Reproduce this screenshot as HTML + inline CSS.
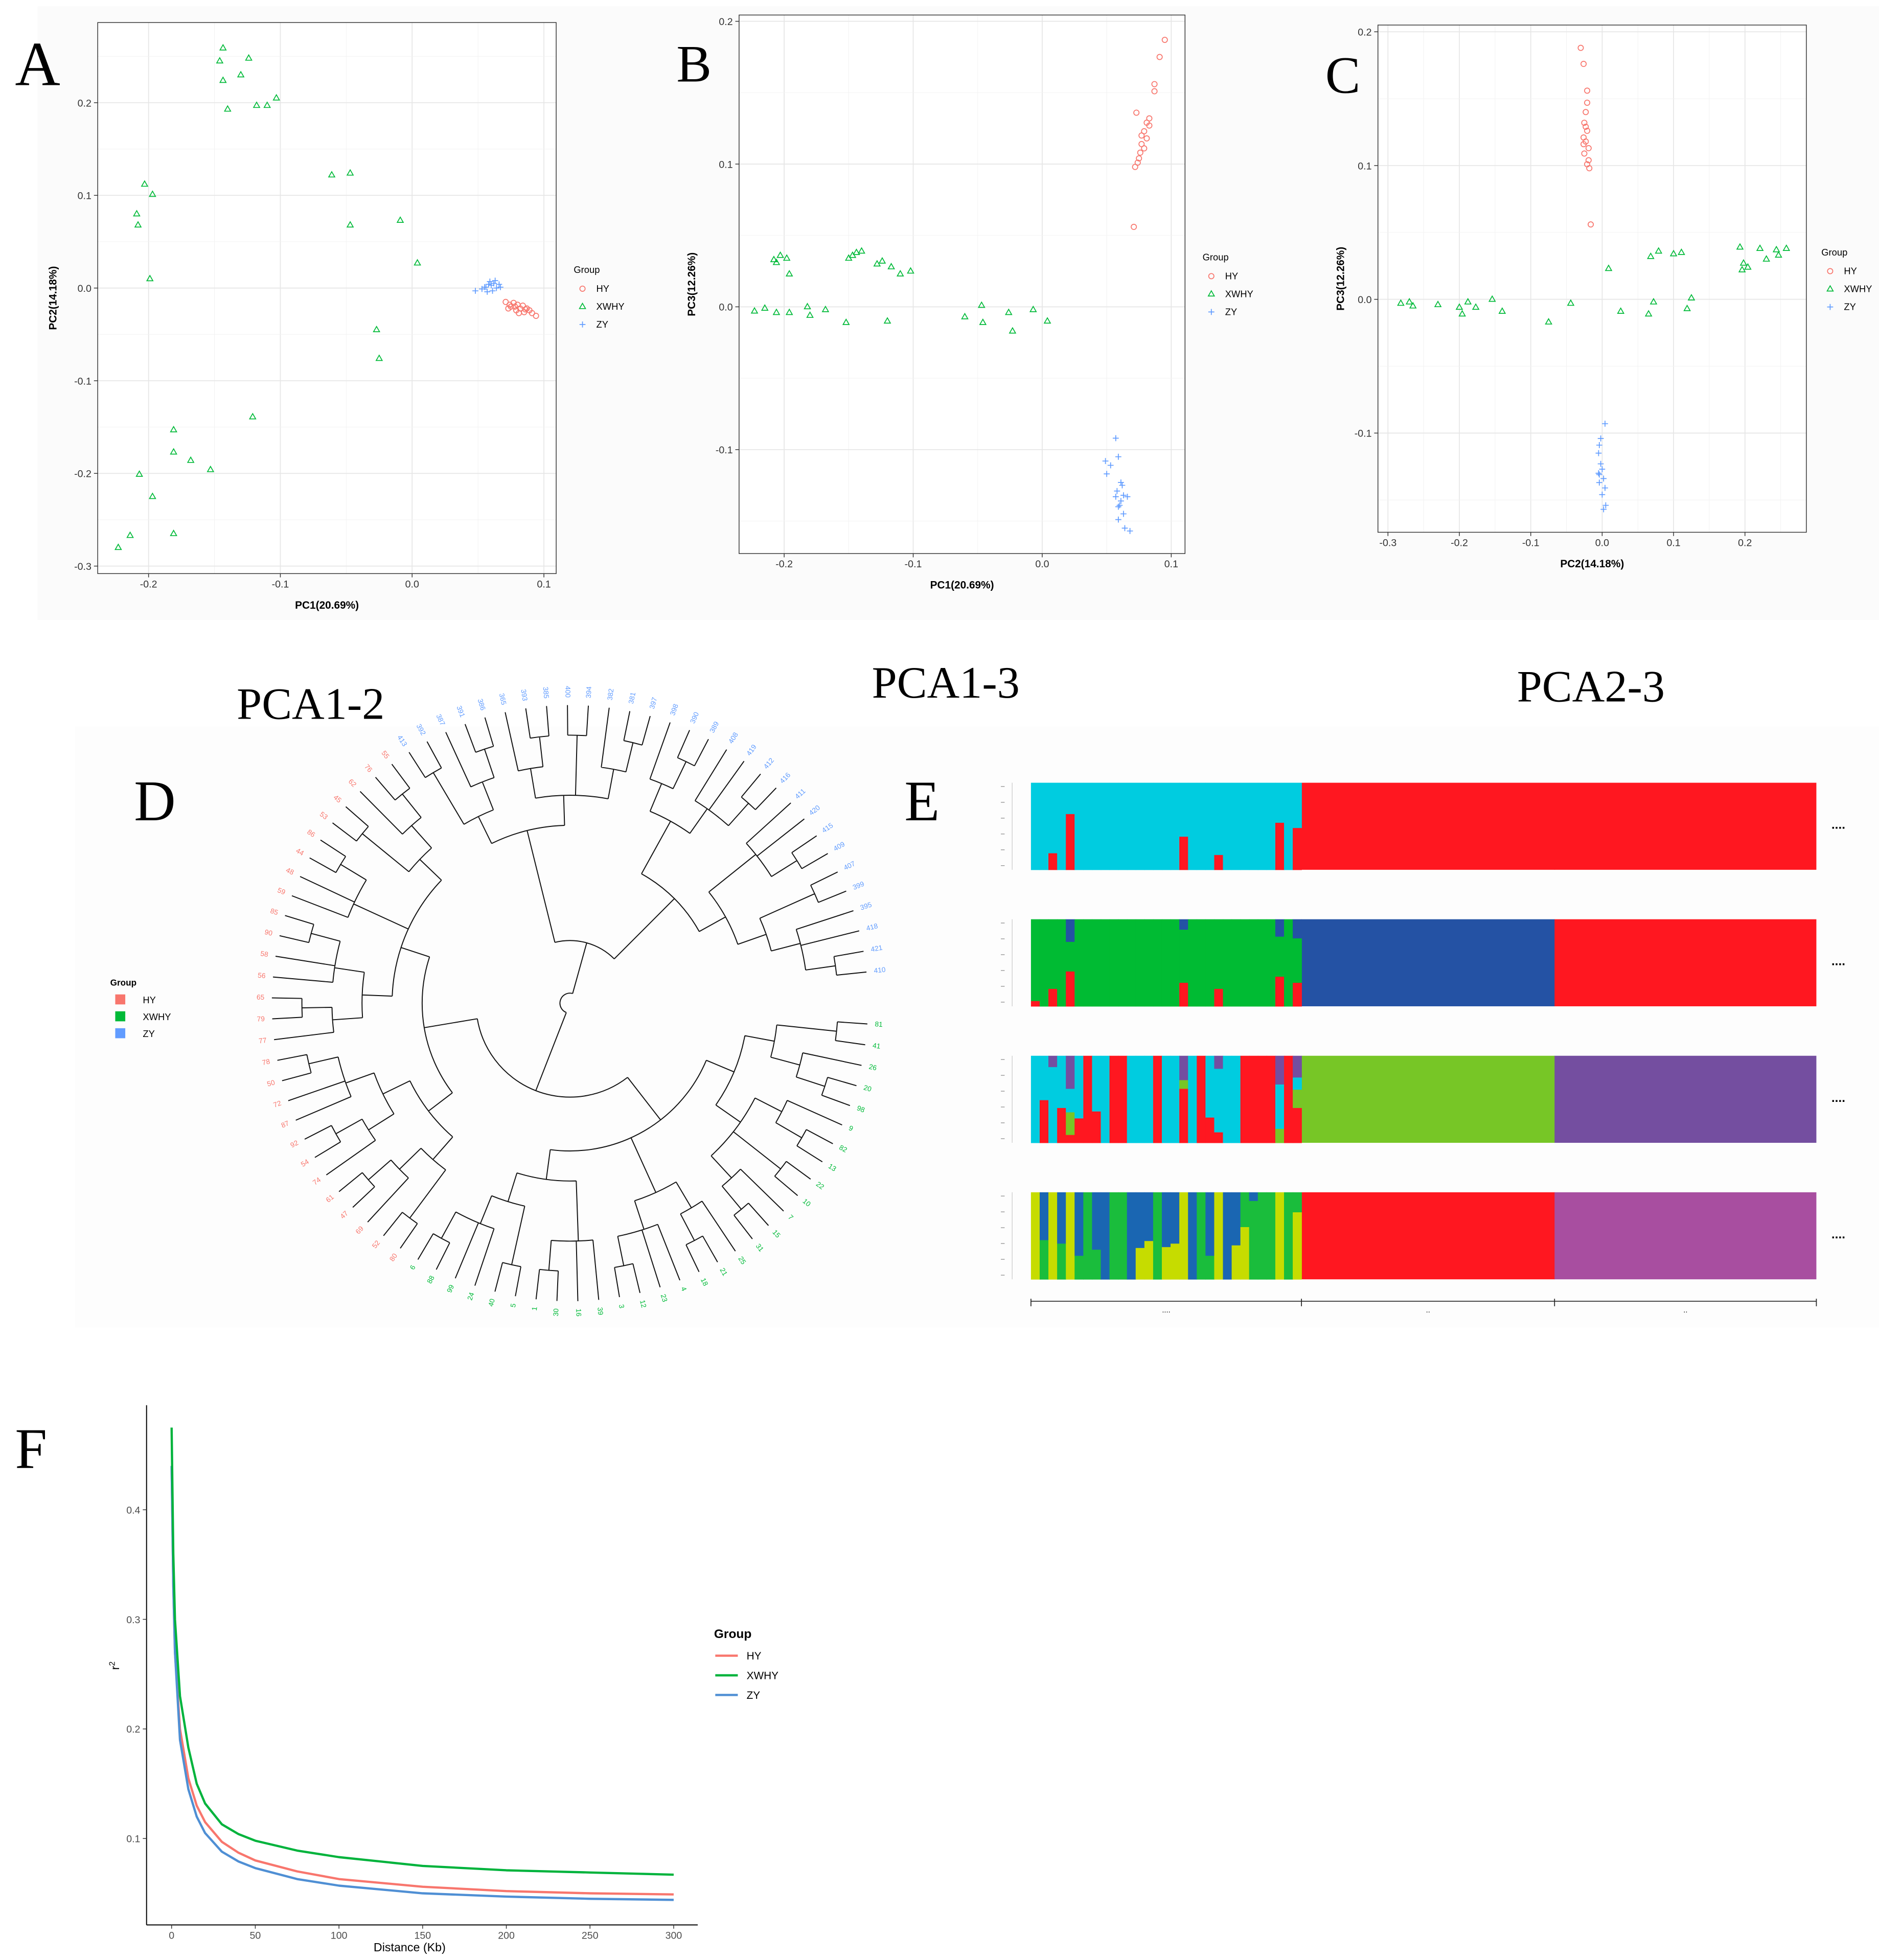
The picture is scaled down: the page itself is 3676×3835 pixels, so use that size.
<!DOCTYPE html>
<html><head><meta charset="utf-8"><title>Population structure figure</title>
<style>
html,body{margin:0;padding:0;background:#fff;}
svg{display:block;}
text{font-family:"Liberation Sans",sans-serif;}
.serif{font-family:"Liberation Serif",serif;}
</style></head>
<body>
<svg id="fig" xmlns="http://www.w3.org/2000/svg" width="3676" height="3835" viewBox="0 0 1500 1565" preserveAspectRatio="none">
<rect x="0" y="0" width="1500" height="1565" fill="#ffffff"/>
<rect x="30" y="5" width="1470" height="490" fill="#fbfbfb"/>
<rect x="60" y="580" width="1440" height="480" fill="#fdfdfd"/>
<text class="serif" x="12" y="68" font-size="50">A</text>
<text class="serif" x="540" y="65" font-size="42">B</text>
<text class="serif" x="1058" y="74" font-size="42">C</text>
<text class="serif" x="107" y="655" font-size="46">D</text>
<text class="serif" x="722" y="655" font-size="46">E</text>
<text class="serif" x="12" y="1172" font-size="46">F</text>
<text class="serif" x="248" y="574" font-size="36" text-anchor="middle">PCA1-2</text>
<text class="serif" x="755" y="557" font-size="36" text-anchor="middle">PCA1-3</text>
<text class="serif" x="1270" y="560" font-size="36" text-anchor="middle">PCA2-3</text>
</svg>
<script>
// ---------------- PCA data ----------------
const aHY_x=[0.071,0.074,0.077,0.078,0.080,0.082,0.075,0.084,0.086,0.087,0.089,0.091,0.094,0.079,0.073,0.081,0.085];
const aHY_y=[-0.015,-0.018,-0.016,-0.020,-0.018,-0.022,-0.020,-0.019,-0.023,-0.022,-0.024,-0.027,-0.030,-0.024,-0.022,-0.027,-0.026];
const aXW_x=[-0.1435,-0.146,-0.124,-0.1435,-0.130,-0.140,-0.118,-0.110,-0.103,-0.203,-0.197,-0.209,-0.208,-0.199,-0.061,-0.047,-0.047,-0.009,0.004,-0.027,-0.025,-0.121,-0.181,-0.181,-0.168,-0.153,-0.207,-0.197,-0.181,-0.214,-0.223];
const aXW_y=[0.259,0.245,0.248,0.224,0.230,0.193,0.197,0.197,0.205,0.112,0.101,0.080,0.068,0.010,0.122,0.124,0.068,0.073,0.027,-0.045,-0.076,-0.139,-0.153,-0.177,-0.186,-0.196,-0.201,-0.225,-0.265,-0.267,-0.280];
const aZY_x=[0.048,0.053,0.056,0.058,0.060,0.062,0.064,0.066,0.057,0.061,0.059,0.063,0.055,0.067];
const aZY_y=[-0.003,-0.001,0.001,0.004,0.003,0.005,0.0,0.004,-0.004,-0.003,0.007,0.008,0.001,0.001];

const bHY_x=[0.095,0.091,0.087,0.087,0.083,0.081,0.083,0.079,0.081,0.077,0.079,0.076,0.075,0.074,0.072,0.077,0.073,0.071];
const bHY_y=[0.187,0.175,0.156,0.151,0.132,0.129,0.127,0.123,0.118,0.114,0.111,0.108,0.104,0.101,0.098,0.120,0.136,0.056];
const bXW_x=[-0.208,-0.203,-0.198,-0.206,-0.196,-0.147,-0.144,-0.140,-0.150,-0.128,-0.124,-0.117,-0.110,-0.102,-0.223,-0.215,-0.206,-0.196,-0.182,-0.180,-0.168,-0.152,-0.120,-0.060,-0.047,-0.046,-0.026,-0.023,-0.007,0.004];
const bXW_y=[0.033,0.036,0.034,0.031,0.023,0.036,0.038,0.039,0.034,0.030,0.032,0.028,0.023,0.025,-0.003,-0.001,-0.004,-0.004,0.000,-0.006,-0.002,-0.011,-0.010,-0.007,0.001,-0.011,-0.004,-0.017,-0.002,-0.010];
const bZY_x=[0.057,0.049,0.053,0.050,0.059,0.061,0.063,0.057,0.061,0.066,0.059,0.063,0.059,0.064,0.068,0.058,0.062,0.060];
const bZY_y=[-0.092,-0.108,-0.111,-0.117,-0.105,-0.123,-0.132,-0.133,-0.136,-0.133,-0.140,-0.145,-0.149,-0.155,-0.157,-0.129,-0.125,-0.139];

const cHY_x=[-0.030,-0.026,-0.021,-0.021,-0.023,-0.025,-0.023,-0.021,-0.026,-0.023,-0.026,-0.019,-0.025,-0.019,-0.021,-0.018,-0.016];
const cHY_y=[0.188,0.176,0.156,0.147,0.140,0.132,0.129,0.126,0.121,0.118,0.116,0.113,0.109,0.104,0.101,0.098,0.056];
const cXW_x=[-0.282,-0.270,-0.265,-0.230,-0.200,-0.196,-0.188,-0.177,-0.154,-0.140,-0.075,-0.044,0.009,0.026,0.065,0.068,0.072,0.079,0.100,0.111,0.119,0.125,0.193,0.198,0.196,0.204,0.221,0.230,0.244,0.247,0.258];
const cXW_y=[-0.003,-0.002,-0.005,-0.004,-0.006,-0.011,-0.002,-0.006,0.000,-0.009,-0.017,-0.003,0.023,-0.009,-0.011,0.032,-0.002,0.036,0.034,0.035,-0.007,0.001,0.039,0.027,0.022,0.024,0.038,0.030,0.037,0.033,0.038];
const cZY_x=[0.004,-0.004,-0.005,-0.002,0.0,-0.005,0.002,-0.004,0.004,0.0,0.005,0.002,-0.002,-0.004];
const cZY_y=[-0.093,-0.109,-0.115,-0.123,-0.127,-0.130,-0.134,-0.137,-0.141,-0.146,-0.154,-0.157,-0.104,-0.131];

const pcaXTicksA=[-0.2,-0.1,0.0,0.1];
const pcaYTicksA=[-0.3,-0.2,-0.1,0.0,0.1,0.2];
const pcaXTicksB=[-0.2,-0.1,0.0,0.1];
const pcaYTicksB=[-0.1,0.0,0.1,0.2];
const pcaXTicksC=[-0.3,-0.2,-0.1,0.0,0.1,0.2];
const pcaYTicksC=[-0.1,0.0,0.1,0.2];

// ---------------- Dendrogram leaves ----------------
const treeXWHY=["81","41","26","20","98","9","82","13","22","10","7","15","31","25","21","18","4","23","12","3","39","16","30","1","5","40","24","99","88","6"];
const treeHY=["80","52","69","47","61","74","54","92","87","72","50","78","77","79","65","56","58","90","85","59","48","44","86","53","45","62","76","55"];
const treeZY=["413","392","387","391","386","365","393","385","400","394","382","381","397","398","390","389","408","419","412","416","411","420","415","409","407","399","395","418","421","410"];

// ---------------- Structure (admixture) data: left group individuals, segments top->bottom ----------------
const structK2=[[["C",1]],[["C",1]],[["C",0.81],["R",0.19]],[["C",1]],[["C",0.36],["R",0.64]],[["C",1]],[["C",1]],[["C",1]],[["C",1]],[["C",1]],[["C",1]],[["C",1]],[["C",1]],[["C",1]],[["C",1]],[["C",1]],[["C",1]],[["C",0.62],["R",0.38]],[["C",1]],[["C",1]],[["C",1]],[["C",0.83],["R",0.17]],[["C",1]],[["C",1]],[["C",1]],[["C",1]],[["C",1]],[["C",1]],[["C",0.46],["R",0.54]],[["C",1]],[["C",0.52],["R",0.48]]];
const structK3=[[["G",0.94],["R",0.06]],[["G",1]],[["G",0.8],["R",0.2]],[["G",1]],[["B",0.26],["G",0.34],["R",0.4]],[["G",1]],[["G",1]],[["G",1]],[["G",1]],[["G",1]],[["G",1]],[["G",1]],[["G",1]],[["G",1]],[["G",1]],[["G",1]],[["G",1]],[["B",0.12],["G",0.61],["R",0.27]],[["G",1]],[["G",1]],[["G",1]],[["G",0.8],["R",0.2]],[["G",1]],[["G",1]],[["G",1]],[["G",1]],[["G",1]],[["G",1]],[["B",0.2],["G",0.46],["R",0.34]],[["G",1]],[["B",0.22],["G",0.51],["R",0.27]]];
const structK4=[[["C",1]],[["C",0.51],["R",0.49]],[["P",0.13],["C",0.87]],[["C",0.6],["R",0.4]],[["P",0.38],["C",0.27],["L",0.26],["R",0.09]],[["C",0.72],["R",0.28]],[["R",1]],[["C",0.64],["R",0.36]],[["C",1]],[["R",1]],[["R",1]],[["C",1]],[["C",1]],[["C",1]],[["R",1]],[["C",1]],[["C",1]],[["P",0.28],["L",0.1],["R",0.62]],[["C",1]],[["R",1]],[["C",0.71],["R",0.29]],[["P",0.15],["C",0.73],["R",0.12]],[["C",1]],[["C",1]],[["R",1]],[["R",1]],[["R",1]],[["R",1]],[["P",0.33],["C",0.51],["L",0.16]],[["R",1]],[["P",0.25],["C",0.14],["L",0.21],["R",0.4]]];
const structK5=[[["Y",1]],[["D",0.55],["N",0.45]],[["Y",1]],[["D",0.59],["N",0.41]],[["Y",1]],[["D",0.73],["N",0.27]],[["N",1]],[["D",0.66],["N",0.34]],[["D",1]],[["N",1]],[["N",1]],[["D",1]],[["D",0.64],["Y",0.36]],[["D",0.56],["Y",0.44]],[["N",1]],[["D",0.63],["Y",0.37]],[["D",0.59],["Y",0.41]],[["Y",1]],[["D",1]],[["N",1]],[["D",0.73],["N",0.27]],[["Y",1]],[["D",1]],[["D",0.61],["Y",0.39]],[["N",0.4],["Y",0.6]],[["D",0.1],["N",0.9]],[["N",1]],[["N",1]],[["Y",1]],[["N",1]],[["N",0.23],["Y",0.77]]];
const structMidCount=29, structRightCount=30;
const structMidColor=["R","B","L","R"];
const structRightColor=["R","R","P","M"];

// ---------------- LD decay data ----------------
const ldDist=[0,1,2,5,10,15,20,30,40,50,75,100,150,200,250,300];
const ldHY=[0.44,0.33,0.27,0.20,0.155,0.13,0.115,0.097,0.087,0.080,0.070,0.063,0.056,0.052,0.050,0.049];
const ldXWHY=[0.475,0.36,0.30,0.23,0.183,0.150,0.132,0.113,0.104,0.098,0.089,0.083,0.075,0.071,0.069,0.067];
const ldZY=[0.44,0.33,0.27,0.19,0.145,0.120,0.105,0.088,0.079,0.073,0.063,0.057,0.050,0.047,0.045,0.044];
const ldXTicks=[0,50,100,150,200,250,300];
const ldYTicks=[0.1,0.2,0.3,0.4];

// ---------------- helpers ----------------
const NS="http://www.w3.org/2000/svg";
const svg=document.getElementById('fig');
function mk(tag,attrs,parent){const e=document.createElementNS(NS,tag);for(const k in attrs)e.setAttribute(k,attrs[k]);(parent||svg).appendChild(e);return e;}
function txt(s,attrs,parent){const e=mk('text',attrs,parent);e.textContent=s;return e;}
const COL={HY:"#F8766D",XWHY:"#00BA38",ZY:"#619CFF"};
function fmt(v){return (Math.abs(v)<1e-9)?"0.0":v.toFixed(1);}

function marker(g,type,x,y){
  let e;
  if(type==="HY"){e=mk('circle',{cx:x,cy:y,r:2.1,fill:"none",stroke:COL.HY,"stroke-width":0.7},g);}
  else if(type==="XWHY"){e=mk('path',{d:`M${x},${y-2.6}L${x+2.4},${y+1.6}L${x-2.4},${y+1.6}Z`,fill:"none",stroke:COL.XWHY,"stroke-width":0.7},g);}
  else {e=mk('path',{d:`M${x-2.4},${y}H${x+2.4}M${x},${y-2.4}V${y+2.4}`,fill:"none",stroke:COL.ZY,"stroke-width":0.7},g);}
  return e;
}

function pcaPanel(p){
  const g=mk('g',{});
  
  
  const bg=mk('rect',{x:p.x0,y:p.y0,width:p.x1-p.x0,height:p.y1-p.y0,fill:"#fff"},g);
  
  
  // grid
  const xt=p.xt, yt=p.yt;
  const stepX=xt[1]-xt[0], stepY=yt[1]-yt[0];
  for(let v=xt[0]-stepX;v<=xt[xt.length-1]+stepX+1e-9;v+=stepX/2){
    const px=p.xs(v); if(px<p.x0||px>p.x1) continue;
    const major=xt.some(t=>Math.abs(t-v)<1e-6);
    const l=mk('line',{x1:px,x2:px,y1:p.y0,y2:p.y1,stroke:major?"#e6e6e6":"#f2f2f2","stroke-width":major?0.7:0.4},g);
    
    
  }
  for(let v=yt[0]-stepY;v<=yt[yt.length-1]+stepY+1e-9;v+=stepY/2){
    const py=p.ys(v); if(py<p.y0||py>p.y1) continue;
    const major=yt.some(t=>Math.abs(t-v)<1e-6);
    const l=mk('line',{x1:p.x0,x2:p.x1,y1:py,y2:py,stroke:major?"#e6e6e6":"#f2f2f2","stroke-width":major?0.7:0.4},g);
    
    
  }
  const br=mk('rect',{x:p.x0,y:p.y0,width:p.x1-p.x0,height:p.y1-p.y0,fill:"none",stroke:"#333","stroke-width":0.6},g);
  
  
  xt.forEach(v=>{
    const px=p.xs(v);
    const t=mk('line',{x1:px,x2:px,y1:p.y1,y2:p.y1+3,stroke:"#333","stroke-width":0.6},g);
    
    
    const l=txt(fmt(v),{x:px,y:p.y1+11,"font-size":8,"text-anchor":"middle",fill:"#333"},g);
    
    
  });
  yt.forEach(v=>{
    const py=p.ys(v);
    const t=mk('line',{x1:p.x0-3,x2:p.x0,y1:py,y2:py,stroke:"#333","stroke-width":0.6},g);
    
    
    const l=txt(fmt(v),{x:p.x0-5,y:py+3,"font-size":8,"text-anchor":"end",fill:"#333"},g);
    
    
  });
  const xl=txt(p.xlab,{x:(p.x0+p.x1)/2,y:p.y1+28,"font-size":8.5,"font-weight":"bold","text-anchor":"middle"},g);
  
  
  const yl=txt(p.ylab,{x:0,y:0,"font-size":8.5,"font-weight":"bold","text-anchor":"middle",transform:`translate(${p.ylx},${(p.y0+p.y1)/2}) rotate(-90)`},g);
  
  
  // series
  p.series.forEach(s=>{
    s.xs.forEach((xv,i)=>{
      const m=marker(g,s.grp,p.xs(xv),p.ys(s.ys[i]));
      
      
    });
  });
  // legend
  const lg=mk('g',{},g);
  
  
  const lt=txt("Group",{x:p.lx,y:p.ly,"font-size":7.5},lg);
  
  
  ["HY","XWHY","ZY"].forEach((k,i)=>{
    const yy=p.ly+15+i*14.3;
    const m=marker(lg,k,p.lx+7,yy-2.5);
    
    
    const t=txt(k,{x:p.lx+18,y:yy,"font-size":7.5},lg);
    
    
  });
}

pcaPanel({name:"pca-plot-a",x0:78,x1:444,y0:18,y1:458,xs:v=>329+v*1052,ys:v=>230-v*740,xt:pcaXTicksA,yt:pcaYTicksA,
  xlab:"PC1(20.69%)",ylab:"PC2(14.18%)",ylx:45,lx:458,ly:218,
  series:[{grp:"XWHY",xs:aXW_x,ys:aXW_y},{grp:"ZY",xs:aZY_x,ys:aZY_y},{grp:"HY",xs:aHY_x,ys:aHY_y}]});
pcaPanel({name:"pca-plot-b",x0:590,x1:946,y0:12,y1:442,xs:v=>832+v*1030,ys:v=>245-v*1140,xt:pcaXTicksB,yt:pcaYTicksB,
  xlab:"PC1(20.69%)",ylab:"PC3(12.26%)",ylx:555,lx:960,ly:208,
  series:[{grp:"XWHY",xs:bXW_x,ys:bXW_y},{grp:"ZY",xs:bZY_x,ys:bZY_y},{grp:"HY",xs:bHY_x,ys:bHY_y}]});
pcaPanel({name:"pca-plot-c",x0:1100,x1:1442,y0:20,y1:425,xs:v=>1279+v*570,ys:v=>239-v*1068,xt:pcaXTicksC,yt:pcaYTicksC,
  xlab:"PC2(14.18%)",ylab:"PC3(12.26%)",ylx:1073,lx:1454,ly:204,
  series:[{grp:"XWHY",xs:cXW_x,ys:cXW_y},{grp:"ZY",xs:cZY_x,ys:cZY_y},{grp:"HY",xs:cHY_x,ys:cHY_y}]});

// ---------------- Dendrogram ----------------
(function(){
  const cx=455, cy=801, RT=238, RL=244;
  const g=mk('g',{});
  
  
  const leaves=[];
  treeXWHY.forEach(l=>leaves.push({lab:l,grp:"XWHY"}));
  treeHY.forEach(l=>leaves.push({lab:l,grp:"HY"}));
  treeZY.forEach(l=>leaves.push({lab:l,grp:"ZY"}));
  const a0=4, step=350/(leaves.length-1);
  const ang=i=>a0+i*step;
  function build(lo,hi){
    const n=hi-lo;
    if(n===1) return {lo,hi,a:ang(lo),r:RT,leaf:true};
    const mid=lo+Math.max(1,Math.floor(n*0.45));
    const c=[build(lo,mid),build(mid,hi)];
    return {lo,hi,children:c,a:(c[0].a+c[1].a)/2,r:RT-24*Math.ceil(Math.log2(n))};
  }
  const xw=build(0,30), hy=build(30,58), zy=build(58,88);
  zy.r=50;
  const pair={children:[xw,hy],a:(xw.a+hy.a)/2,r:75};
  const root={children:[pair,zy],a:(pair.a+zy.a)/2,r:8};
  const P=(a,r)=>[cx+r*Math.cos(a*Math.PI/180),cy+r*Math.sin(a*Math.PI/180)];
  let d="";
  function draw(node){
    if(!node.children) return;
    const aa=node.children.map(c=>c.a);
    const amin=Math.min(...aa), amax=Math.max(...aa);
    const s=P(amin,node.r), e=P(amax,node.r);
    d+=`M${s[0]},${s[1]}A${node.r},${node.r} 0 ${amax-amin>180?1:0} 1 ${e[0]},${e[1]}`;
    node.children.forEach(c=>{
      const p1=P(c.a,node.r), p2=P(c.a,c.r);
      d+=`M${p1[0]},${p1[1]}L${p2[0]},${p2[1]}`;
      draw(c);
    });
  }
  draw(root);
  const br=mk('path',{d:d,fill:"none",stroke:"#111","stroke-width":0.8},g);
  
  
  leaves.forEach((lf,i)=>{
    const a=ang(i); const p=P(a,RL);
    const flip=(a>90&&a<270);
    const t=txt(lf.lab,{x:p[0],y:p[1],"font-size":5.6,fill:COL[lf.grp],"dominant-baseline":"middle","text-anchor":flip?"end":"start",
      transform:`rotate(${flip?a+180:a} ${p[0]} ${p[1]})`},g);
    
    
  });
  const lg=mk('g',{},g);
  
  
  const lt=txt("Group",{x:88,y:787,"font-size":7,"font-weight":"bold"},lg);
  
  
  ["HY","XWHY","ZY"].forEach((k,i)=>{
    const yy=798+i*13.5;
    const s=mk('rect',{x:92,y:yy-4,width:8,height:8,fill:COL[k]},lg);
    
    
    const t=txt(k,{x:114,y:yy+3,"font-size":7.5},lg);
    
    
  });
})();

// ---------------- Structure plot ----------------
(function(){
  const SC={C:"#00CCE0",R:"#FF1720",G:"#00BB33",B:"#2452A4",L:"#77C626",P:"#744EA0",Y:"#C6DC00",D:"#1A66B2",N:"#1ABD3C",M:"#A84EA0"};
  const rows=[structK2,structK3,structK4,structK5];
  const x0=823, x1=1450, top0=625, H=69.5, gap=109;
  const nLeft=31, total=nLeft+structMidCount+structRightCount;
  const w=(x1-x0)/total;
  const g=mk('g',{});
  
  
  rows.forEach((row,ri)=>{
    const ty=top0+ri*gap;
    const rg=mk('g',{},g);
    
    
    const mid=mk('rect',{x:x0+nLeft*w,y:ty,width:structMidCount*w+0.3,height:H,fill:SC[structMidColor[ri]]},rg);
    
    
    const rt=mk('rect',{x:x0+(nLeft+structMidCount)*w,y:ty,width:structRightCount*w,height:H,fill:SC[structRightColor[ri]]},rg);
    
    
    row.forEach((ind,i)=>{
      let yy=ty;
      ind.forEach(seg=>{
        const r=mk('rect',{x:x0+i*w,y:yy,width:w+0.3,height:seg[1]*H+0.2,fill:SC[seg[0]]},rg);
        
        
        yy+=seg[1]*H;
      });
    });
    // left ticks
    for(let k=0;k<=5;k++){
      const l=mk('line',{x1:x0-24,x2:x0-21,y1:ty+3+k*H/5.5,y2:ty+3+k*H/5.5,stroke:"#888","stroke-width":0.5},rg);
      
      
    }
    const lb=mk('line',{x1:x0-15,x2:x0-15,y1:ty,y2:ty+H,stroke:"#bbb","stroke-width":0.4},rg);
    
    
    const dots=txt("....",{x:1462,y:ty+H/2+2,"font-size":10,"font-weight":"bold"},rg);
    
    
  });
  const ax=mk('line',{x1:x0,x2:x1,y1:1039,y2:1039,stroke:"#222","stroke-width":0.7},g);
  
  
  [0,nLeft,nLeft+structMidCount,total].forEach(k=>{
    const t=mk('line',{x1:x0+k*w,x2:x0+k*w,y1:1037,y2:1043,stroke:"#222","stroke-width":0.7},g);
    
    
  });
  [["....",nLeft/2],["..",nLeft+structMidCount/2],["..",nLeft+structMidCount+structRightCount/2]].forEach(p=>{
    const t=txt(p[0],{x:x0+p[1]*w,y:1048,"font-size":6,"text-anchor":"middle"},g);
    
    
  });
})();

// ---------------- LD decay ----------------
(function(){
  const xs=v=>137+v*1.336, ys=v=>1468-(v-0.1)*875;
  const g=mk('g',{});
  
  
  const ay=mk('line',{x1:117,x2:117,y1:1122,y2:1537,stroke:"#000","stroke-width":0.8},g);
  
  
  const axl=mk('line',{x1:117,x2:557,y1:1537,y2:1537,stroke:"#000","stroke-width":0.8},g);
  
  
  ldXTicks.forEach(v=>{
    const t=mk('line',{x1:xs(v),x2:xs(v),y1:1537,y2:1540,stroke:"#333","stroke-width":0.6},g);
    
    
    const l=txt(String(v),{x:xs(v),y:1548,"font-size":8,"text-anchor":"middle",fill:"#4d4d4d"},g);
    
    
  });
  ldYTicks.forEach(v=>{
    const t=mk('line',{x1:114,x2:117,y1:ys(v),y2:ys(v),stroke:"#333","stroke-width":0.6},g);
    
    
    const l=txt(v.toFixed(1),{x:112,y:ys(v)+3,"font-size":8,"text-anchor":"end",fill:"#4d4d4d"},g);
    
    
  });
  const xt=txt("Distance (Kb)",{x:327,y:1558,"font-size":9.5,"text-anchor":"middle"},g);
  
  
  const yt=mk('text',{x:0,y:0,"font-size":9.5,"text-anchor":"middle",transform:"translate(95,1330) rotate(-90)"},g);
  yt.textContent="r";
  const sup=mk('tspan',{"font-size":6.5,dy:-3.5},yt);
  sup.textContent="2";
  
  
  const LC={HY:"#F8766D",XWHY:"#00B33C",ZY:"#4F8FD4"};
  [["HY",ldHY],["ZY",ldZY],["XWHY",ldXWHY]].forEach(s=>{
    const pts=ldDist.map((d,i)=>xs(d)+","+ys(s[1][i])).join(" ");
    const pl=mk('polyline',{points:pts,fill:"none",stroke:LC[s[0]],"stroke-width":1.8,"stroke-linejoin":"round"},g);
    
    
  });
  const lg=mk('g',{},g);
  
  
  const lt=txt("Group",{x:570,y:1308,"font-size":10,"font-weight":"bold"},lg);
  
  
  ["HY","XWHY","ZY"].forEach((k,i)=>{
    const yy=1322+i*15.7;
    const l=mk('line',{x1:571,x2:589,y1:yy,y2:yy,stroke:LC[k],"stroke-width":1.8},lg);
    
    
    const t=txt(k,{x:596,y:yy+3,"font-size":8.5},lg);
    
    
  });
})();
</script>
</body></html>
